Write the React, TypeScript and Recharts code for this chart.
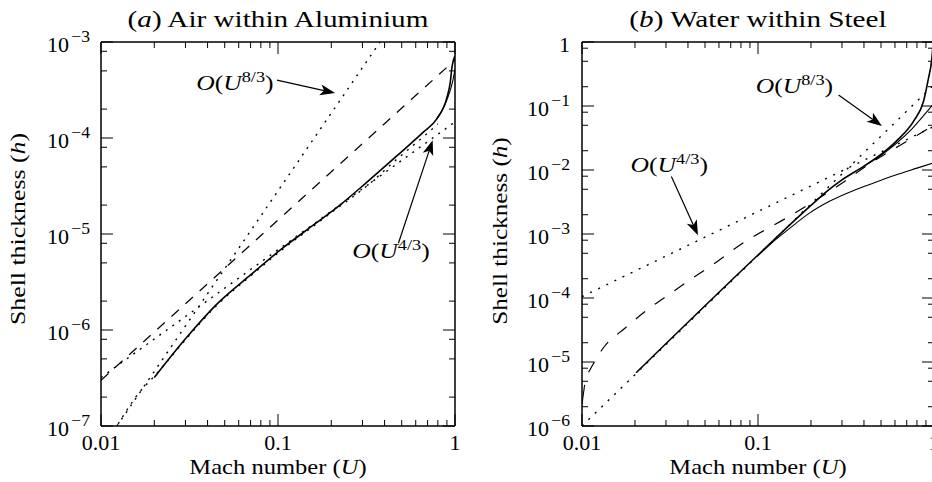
import React from 'react';
import { LineChart, Line, XAxis, YAxis, ReferenceLine, ReferenceDot } from 'recharts';

type Pt = [number, number];

const FONT = "'Liberation Serif', 'Times New Roman', serif";

// ---------- axis ticks ----------
const xTicks = [0.01, 0.02, 0.03, 0.04, 0.05, 0.06, 0.07, 0.08, 0.09, 0.1, 0.2, 0.3, 0.4, 0.5, 0.6, 0.7, 0.8, 0.9, 1];
const xMajorTicks = [0.01, 0.1, 1];
const xMajorLabels = ['0.01', '0.1', '1'];

const yTicksA = [1e-7, 2e-7, 5e-7, 8e-7, 1e-6, 2e-6, 5e-6, 8e-6, 1e-5, 2e-5, 5e-5, 8e-5, 1e-4, 2e-4, 5e-4, 8e-4, 1e-3];
const yMajorA = [1e-7, 1e-6, 1e-5, 1e-4, 1e-3];
const yExpA = ['−7', '−6', '−5', '−4', '−3'];

const yTicksB = [1e-6, 2e-6, 5e-6, 8e-6, 1e-5, 2e-5, 5e-5, 8e-5, 1e-4, 2e-4, 5e-4, 8e-4, 1e-3, 2e-3, 5e-3, 8e-3, 1e-2, 2e-2, 5e-2, 8e-2, 0.1, 0.2, 0.5, 0.8, 1];
const yMajorB = [1e-6, 1e-5, 1e-4, 1e-3, 1e-2, 0.1, 1];
const yExpB = ['−6', '−5', '−4', '−3', '−2', '−1', ''];

// ---------- panel (a): Air within Aluminium ----------
const aSolidMain: Pt[] = [
  [0.02, 3.2e-7], [0.03, 8.1e-7], [0.045, 1.85e-6], [0.07, 3.75e-6], [0.107, 7.2e-6],
  [0.15, 1.15e-5], [0.22, 1.95e-5], [0.317, 3.45e-5], [0.469, 6.5e-5], [0.662, 1.15e-4],
  [0.789, 1.58e-4], [0.898, 2.6e-4], [0.94, 3.8e-4], [0.962, 5.5e-4], [1, 7.2e-4],
];
const aSolidBranch: Pt[] = [
  [0.789, 1.58e-4], [0.88, 2.25e-4], [0.93, 2.95e-4], [0.97, 3.9e-4], [1, 5.2e-4],
];
const aDottedCurve: Pt[] = [
  [0.0125, 1.05e-7], [0.0165, 2.25e-7], [0.02, 3.3e-7], [0.03, 7.9e-7], [0.045, 1.8e-6],
  [0.07, 3.65e-6], [0.107, 7.0e-6], [0.15, 1.12e-5], [0.22, 1.9e-5], [0.317, 3.15e-5],
  [0.469, 6.0e-5], [0.662, 1.03e-4], [0.8, 1.4e-4],
];
const aDotted43: Pt[] = [[0.01, 3.2e-7], [1, 1.47e-4]];
const aDotted83: Pt[] = [[0.0123, 1e-7], [0.377, 1e-3]];
const aDashed: Pt[] = [[0.01, 3.0e-7], [1, 6.5e-4]];

// annotations (data coordinates)
const aNote83: Pt = [0.0571, 3.16e-4];
const aArrow83: Pt[] = [[0.0987, 4.0e-4], [0.21, 2.94e-4]];
const aNote43: Pt = [0.435, 5.6e-6];
const aArrow43: Pt[] = [[0.479, 8.0e-6], [0.748, 9.5e-5]];

// ---------- panel (b): Water within Steel ----------
const bSolidMain: Pt[] = [
  [0.0203, 6.8e-6], [0.1, 4.7e-4], [0.2, 2.8e-3], [0.25, 4.8e-3], [0.3, 7.0e-3], [0.4, 1.15e-2],
  [0.5, 1.75e-2], [0.617, 2.9e-2], [0.766, 5.8e-2], [0.873, 0.12], [0.93, 0.27], [0.97, 0.52], [0.99, 1],
];
const bSolidLower: Pt[] = [
  [0.1, 4.6e-4], [0.12, 7.3e-4], [0.15, 1.2e-3], [0.195, 2.1e-3], [0.258, 3.3e-3], [0.35, 4.8e-3],
  [0.434, 6.0e-3], [0.6, 8.3e-3], [0.8, 1.07e-2], [1, 1.3e-2],
];
const bSolidMid: Pt[] = [
  [0.4, 1.15e-2], [0.5, 1.7e-2], [0.6, 2.5e-2], [0.75, 4.4e-2], [0.9, 7.8e-2], [1, 0.11],
];
const bSolidLeft: Pt[] = [[0.01, 2.2e-6], [0.01035, 4.4e-6]];
const bDashed: Pt[] = [
  [0.0109, 6.9e-6], [0.0133, 1.7e-5], [0.0176, 3.4e-5], [0.0234, 6.5e-5], [0.0318, 1.18e-4],
  [0.0431, 2.1e-4], [0.0585, 3.7e-4], [0.0794, 6.8e-4], [0.156, 2.0e-3], [0.281, 5.5e-3],
  [0.45, 1.35e-2], [0.73, 3.0e-2], [1, 5.0e-2],
];
const bDotted43: Pt[] = [[0.01, 1.05e-4], [1, 0.048]];
const bDotted83: Pt[] = [[0.01, 1e-6], [1, 0.215]];

const bNote83: Pt = [0.161, 0.16];
const bArrow83: Pt[] = [[0.287, 0.149], [0.506, 0.0487]];
const bNote43: Pt = [0.0313, 9.3e-3];
const bArrow43: Pt[] = [[0.0322, 7.9e-3], [0.0456, 9.6e-4]];

// ---------- helpers ----------
const toData = (pts: Pt[]) => pts.map(([u, h]) => ({ u, h }));
const matchIdx = (list: number[], v: number) => list.findIndex((m) => Math.abs(m - v) <= m * 1e-6);

function SText(props: any) {
  const { x, y, size, sx = 1.1, anchor = 'start', rotate = false, children } = props;
  const t = rotate
    ? `translate(${x},${y}) rotate(-90) scale(${sx},1)`
    : `translate(${x},${y}) scale(${sx},1)`;
  return (
    <text transform={t} x={0} y={0} fontSize={size} fontFamily={FONT} textAnchor={anchor} fill="#000" stroke="none">
      {children}
    </text>
  );
}

const makeXTick = (top: boolean) => (props: any) => {
  const { x, y, payload } = props;
  const i = matchIdx(xMajorTicks, payload.value);
  const len = i >= 0 ? 12 : 6;
  const dir = top ? 1 : -1;
  return (
    <g>
      <line x1={x} y1={y} x2={x} y2={y + dir * len} stroke="#000" strokeWidth={1} />
      {!top && i >= 0 && (
        <SText x={x} y={y + 24} size={20} sx={1.1} anchor="middle">
          {xMajorLabels[i]}
        </SText>
      )}
    </g>
  );
};

const makeYTick = (right: boolean, majors: number[], exps: string[], gap: number) => (props: any) => {
  const { x, y, payload } = props;
  const i = matchIdx(majors, payload.value);
  const len = i >= 0 ? 12 : 6;
  const dir = right ? -1 : 1;
  let label: any = null;
  if (!right && i >= 0) {
    const e = exps[i];
    label = (
      <SText x={x - gap} y={y + 10} size={20} sx={1.1} anchor="end">
        {e === '' ? (
          '1'
        ) : (
          <>
            <tspan>10</tspan>
            <tspan dx={2} dy={-10} fontSize={16}>
              {e}
            </tspan>
          </>
        )}
      </SText>
    );
  }
  return (
    <g>
      <line x1={x} y1={y} x2={x + dir * len} y2={y} stroke="#000" strokeWidth={1} />
      {label}
    </g>
  );
};

const ArrowShape = (p: any) => {
  const { x1, y1, x2, y2 } = p;
  const ang = Math.atan2(y2 - y1, x2 - x1);
  const L = 15;
  const W = 5.5;
  const bx = x2 - L * Math.cos(ang);
  const by = y2 - L * Math.sin(ang);
  const px = -Math.sin(ang) * W;
  const py = Math.cos(ang) * W;
  const cx = x2 - L * 0.75 * Math.cos(ang);
  const cy = y2 - L * 0.75 * Math.sin(ang);
  return (
    <g>
      <line x1={x1} y1={y1} x2={cx} y2={cy} stroke="#000" strokeWidth={1.2} />
      <polygon points={`${x2},${y2} ${bx + px},${by + py} ${cx},${cy} ${bx - px},${by - py}`} fill="#000" />
    </g>
  );
};

const makeNote = (sup: string) => (p: any) => {
  const { cx, cy } = p;
  return (
    <SText x={cx} y={cy} size={21} sx={1.22} anchor="middle">
      <tspan fontStyle="italic">O</tspan>
      <tspan>(</tspan>
      <tspan fontStyle="italic">U</tspan>
      <tspan dy={-8} fontSize={15}>
        {sup}
      </tspan>
      <tspan dy={8}>)</tspan>
    </SText>
  );
};

const lineCommon = {
  dataKey: 'h',
  stroke: '#000',
  dot: false,
  activeDot: false,
  isAnimationActive: false,
  xAxisId: 'b',
  yAxisId: 'l',
} as const;

const axisLine = { stroke: '#000', strokeWidth: 1.5 };

function Panel(props: any) {
  const { width, margin, yDomain, yTicks, yMajors, yExps, gap, children, left } = props;
  return (
    <div style={{ position: 'absolute', left, top: 0 }}>
      <LineChart width={width} height={482} margin={margin}>
        <XAxis
          xAxisId="b"
          dataKey="u"
          type="number"
          scale="log"
          domain={[0.01, 1]}
          ticks={xTicks}
          interval={0}
          allowDataOverflow
          height={40}
          tickSize={0}
          tickMargin={0}
          tickLine={false}
          axisLine={axisLine}
          tick={makeXTick(false)}
        />
        <XAxis
          xAxisId="t"
          orientation="top"
          dataKey="u"
          type="number"
          scale="log"
          domain={[0.01, 1]}
          ticks={xTicks}
          interval={0}
          allowDataOverflow
          height={10}
          tickSize={0}
          tickMargin={0}
          tickLine={false}
          axisLine={axisLine}
          tick={makeXTick(true)}
        />
        <YAxis
          yAxisId="l"
          dataKey="h"
          type="number"
          scale="log"
          domain={yDomain}
          ticks={yTicks}
          interval={0}
          allowDataOverflow
          width={60}
          tickSize={0}
          tickMargin={0}
          tickLine={false}
          axisLine={axisLine}
          tick={makeYTick(false, yMajors, yExps, gap)}
        />
        <YAxis
          yAxisId="r"
          orientation="right"
          dataKey="h"
          type="number"
          scale="log"
          domain={yDomain}
          ticks={yTicks}
          interval={0}
          allowDataOverflow
          width={10}
          tickSize={0}
          tickMargin={0}
          tickLine={false}
          axisLine={axisLine}
          tick={makeYTick(true, yMajors, yExps, gap)}
        />
        {children}
      </LineChart>
    </div>
  );
}

export default function App() {
  return (
    <div style={{ position: 'absolute', left: 0, top: 0, width: 932, height: 482, overflow: 'hidden', background: '#fff' }}>
      <Panel
        left={0}
        width={470}
        margin={{ top: 32, right: 5, bottom: 16, left: 41 }}
        yDomain={[1e-7, 1e-3]}
        yTicks={yTicksA}
        yMajors={yMajorA}
        yExps={yExpA}
        gap={11}
      >
        <Line {...lineCommon} data={toData(aDotted83)} type="linear" strokeWidth={1.4} strokeDasharray="2 6" />
        <Line {...lineCommon} data={toData(aDotted43)} type="linear" strokeWidth={1.4} strokeDasharray="2 6" />
        <Line {...lineCommon} data={toData(aDottedCurve)} type="monotone" strokeWidth={1.4} strokeDasharray="2 6" />
        <Line {...lineCommon} data={toData(aDashed)} type="linear" strokeWidth={1.2} strokeDasharray="10 9" />
        <Line {...lineCommon} data={toData(aSolidBranch)} type="monotone" strokeWidth={1.1} />
        <Line {...lineCommon} data={toData(aSolidMain)} type="monotone" strokeWidth={1.6} />
        <ReferenceLine
          xAxisId="b"
          yAxisId="l"
          segment={[{ x: aArrow83[0][0], y: aArrow83[0][1] }, { x: aArrow83[1][0], y: aArrow83[1][1] }]}
          ifOverflow="visible"
          shape={ArrowShape}
        />
        <ReferenceLine
          xAxisId="b"
          yAxisId="l"
          segment={[{ x: aArrow43[0][0], y: aArrow43[0][1] }, { x: aArrow43[1][0], y: aArrow43[1][1] }]}
          ifOverflow="visible"
          shape={ArrowShape}
        />
        <ReferenceDot xAxisId="b" yAxisId="l" x={aNote83[0]} y={aNote83[1]} r={0} ifOverflow="visible" shape={makeNote('8/3')} />
        <ReferenceDot xAxisId="b" yAxisId="l" x={aNote43[0]} y={aNote43[1]} r={0} ifOverflow="visible" shape={makeNote('4/3')} />
      </Panel>
      <Panel
        left={470}
        width={480}
        margin={{ top: 32, right: 6, bottom: 16, left: 52 }}
        yDomain={[1e-6, 1]}
        yTicks={yTicksB}
        yMajors={yMajorB}
        yExps={yExpB}
        gap={12}
      >
        <Line {...lineCommon} data={toData(bDotted83)} type="linear" strokeWidth={1.4} strokeDasharray="2 7" />
        <Line {...lineCommon} data={toData(bDotted43)} type="linear" strokeWidth={1.4} strokeDasharray="2 7" />
        <Line {...lineCommon} data={toData(bDashed)} type="monotone" strokeWidth={1.2} strokeDasharray="12 12" />
        <Line {...lineCommon} data={toData(bSolidLower)} type="monotone" strokeWidth={1.1} />
        <Line {...lineCommon} data={toData(bSolidMid)} type="monotone" strokeWidth={1.1} />
        <Line {...lineCommon} data={toData(bSolidLeft)} type="linear" strokeWidth={1.1} />
        <Line {...lineCommon} data={toData(bSolidMain)} type="monotone" strokeWidth={1.6} />
        <ReferenceLine
          xAxisId="b"
          yAxisId="l"
          segment={[{ x: bArrow83[0][0], y: bArrow83[0][1] }, { x: bArrow83[1][0], y: bArrow83[1][1] }]}
          ifOverflow="visible"
          shape={ArrowShape}
        />
        <ReferenceLine
          xAxisId="b"
          yAxisId="l"
          segment={[{ x: bArrow43[0][0], y: bArrow43[0][1] }, { x: bArrow43[1][0], y: bArrow43[1][1] }]}
          ifOverflow="visible"
          shape={ArrowShape}
        />
        <ReferenceDot xAxisId="b" yAxisId="l" x={bNote83[0]} y={bNote83[1]} r={0} ifOverflow="visible" shape={makeNote('8/3')} />
        <ReferenceDot xAxisId="b" yAxisId="l" x={bNote43[0]} y={bNote43[1]} r={0} ifOverflow="visible" shape={makeNote('4/3')} />
      </Panel>
      <svg width={932} height={482} style={{ position: 'absolute', left: 0, top: 0, pointerEvents: 'none' }}>
        <SText x={278} y={27} size={23} sx={1.27} anchor="middle">
          <tspan>(</tspan>
          <tspan fontStyle="italic">a</tspan>
          <tspan>) Air within Aluminium</tspan>
        </SText>
        <SText x={758} y={27} size={23} sx={1.27} anchor="middle">
          <tspan>(</tspan>
          <tspan fontStyle="italic">b</tspan>
          <tspan>) Water within Steel</tspan>
        </SText>
        <SText x={278} y={474} size={21} sx={1.17} anchor="middle">
          <tspan>Mach number (</tspan>
          <tspan fontStyle="italic">U</tspan>
          <tspan>)</tspan>
        </SText>
        <SText x={758} y={474} size={21} sx={1.17} anchor="middle">
          <tspan>Mach number (</tspan>
          <tspan fontStyle="italic">U</tspan>
          <tspan>)</tspan>
        </SText>
        <SText x={25} y={229} size={21} sx={1.23} anchor="middle" rotate>
          <tspan>Shell thickness (</tspan>
          <tspan fontStyle="italic">h</tspan>
          <tspan>)</tspan>
        </SText>
        <SText x={507} y={231} size={21} sx={1.2} anchor="middle" rotate>
          <tspan>Shell thickness (</tspan>
          <tspan fontStyle="italic">h</tspan>
          <tspan>)</tspan>
        </SText>
      </svg>
    </div>
  );
}
